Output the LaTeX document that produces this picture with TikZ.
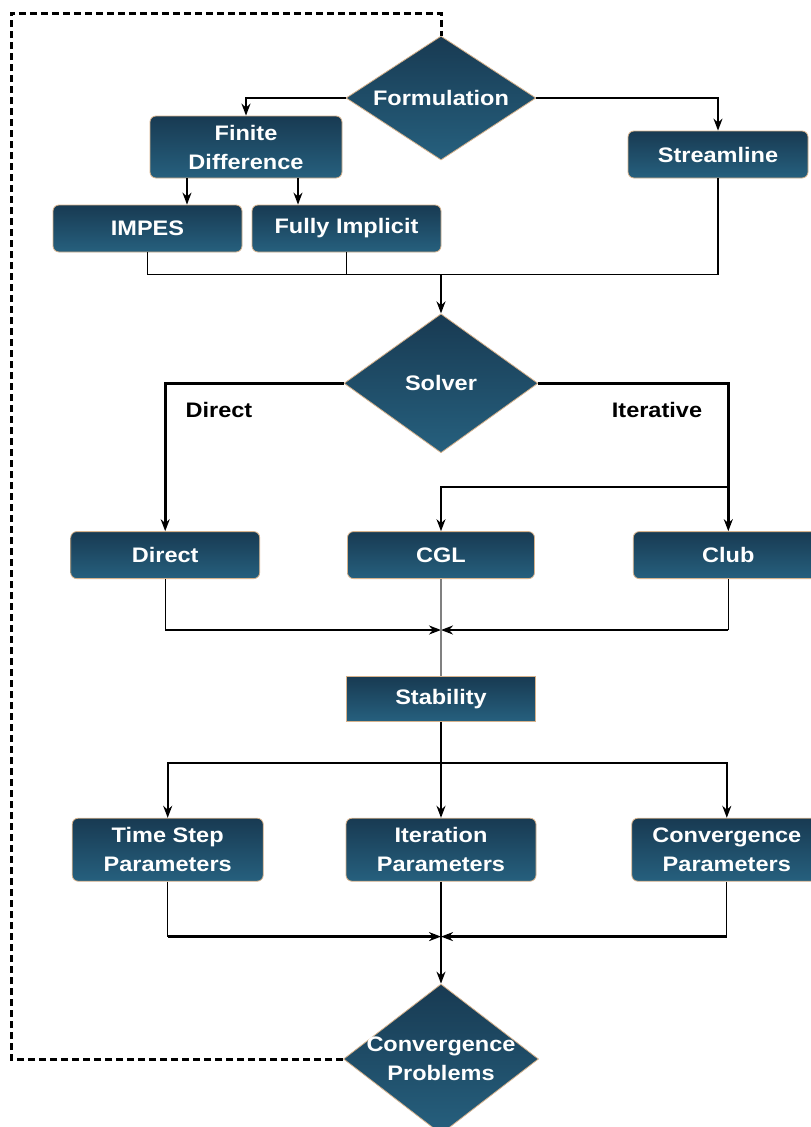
\documentclass[tikz,border=0pt]{standalone}
\usepackage{fontspec}
\setmainfont{Liberation Sans}[FakeStretch=1.12]
\usepackage{xcolor}
\usepackage{tikz}
\usetikzlibrary{shapes.geometric, arrows.meta, positioning, calc}

\definecolor{boxtop}{RGB}{24,58,82}
\definecolor{boxbot}{RGB}{38,96,126}
\definecolor{boxrim}{RGB}{214,178,140}

\begin{document}
\begin{tikzpicture}[
   x=1pt, y=1pt,
   font=\fontsize{21}{29}\selectfont\bfseries,
   boxbase/.style = {draw=boxrim, line width=0.8pt, top color=boxtop, bottom color=boxbot, text=white, align=center, inner sep=0pt},
   decision/.style = {boxbase, diamond, minimum width=194pt, minimum height=139pt, shape aspect=1.4},
   procbox/.style = {boxbase, rectangle, rounded corners=6pt, minimum width=189pt, minimum height=47pt},
   plainbox/.style = {boxbase, rectangle, minimum width=189pt, minimum height=45pt},
   branchtag/.style = {text=black},
   line/.style = {draw, -{Stealth[length=12pt, width=9pt]}, line width=1.8pt},
   heavyline/.style = {draw, -{Stealth[length=12pt, width=9pt]}, line width=2.8pt},
   joinline/.style = {draw, line width=1.3pt},
   feedback/.style = {draw, line width=3pt, dash pattern=on 7pt off 4pt}
   ]
  \useasboundingbox (0,0) rectangle (811,-1127);

  % Formulation and its branches
  \node[decision, minimum width=190pt, minimum height=124pt, shape aspect=1.53] (formulation) at (441,-98) {Formulation};
  \node[procbox, minimum width=192pt, minimum height=62pt] (findiff) at (246,-147) {Finite\\Difference};
  \node[procbox, minimum width=180pt] (streamline) at (718,-154.5) {Streamline};
  \node[procbox] (impes) at (147.5,-228.5) {IMPES};
  \node[procbox] (fullyimp) at (346.5,-228.5) {Fully Implicit};

  % Solver
  \node[decision, below=153pt of formulation] (solver) {Solver};
  \node[branchtag] (directtag) at (219,-410) {Direct};
  \node[branchtag] (itertag) at (657,-410) {Iterative};

  % Solver boxes
  \node[procbox, minimum width=187pt, below=78pt of solver] (cgl) {CGL};
  \node[procbox, left=87pt of cgl] (direct) {Direct};
  \node[procbox, minimum width=190pt, right=98pt of cgl] (club) {Club};

  % Stability
  \node[plainbox, below=97pt of cgl] (stability) {Stability};

  % Parameter boxes
  \node[procbox, minimum width=190pt, minimum height=63pt, below=96pt of stability] (iterparam) {Iteration\\Parameters};
  \node[procbox, minimum width=191pt, minimum height=63pt, left=82pt of iterparam] (timestep) {Time Step\\Parameters};
  \node[procbox, minimum width=190pt, minimum height=63pt, right=95pt of iterparam] (convparam) {Convergence\\Parameters};

  % Convergence problems
  \node[decision, minimum width=195pt, minimum height=150pt, shape aspect=1.3, inner sep=-6pt, below=102pt of iterparam] (convprob) {Convergence\\Problems};

  % Junctions
  \coordinate[above=39pt of solver.north] (join1);
  \coordinate[below=51pt of cgl.south] (join2);
  \coordinate[above=55pt of iterparam.north] (split3);
  \coordinate[below=55pt of iterparam.south] (join4);
  \coordinate (corner) at (11,-13);

  % Arrows
  \draw[line] (formulation.west) -| (findiff.north);
  \draw[line] (formulation.east) -| (streamline.north);
  \draw[line] ([xshift=-59pt]findiff.south) -- ([xshift=-59pt]findiff.south |- impes.north);
  \draw[line] ([xshift=52pt]findiff.south) -- ([xshift=52pt]findiff.south |- fullyimp.north);
  \draw[joinline] (impes.south) |- (streamline.south |- join1) -- (streamline.south);
  \draw[joinline] (fullyimp.south) -- (fullyimp.south |- join1);
  \draw[line] (join1) -- (solver.north);
  \draw[heavyline] (solver.west) -| (direct.north);
  \draw[heavyline] (solver.east) -| (club.north);
  \draw[line] ([yshift=-104pt]solver.east -| club.north) -| (cgl.north);
  \draw[joinline] (direct.south) -- (direct.south |- join2);
  \draw[joinline] (club.south) -- (club.south |- join2);
  \draw[heavyline] (direct.south |- join2) -- (join2);
  \draw[heavyline] (club.south |- join2) -- (join2);
  \draw[joinline, gray] (cgl.south) -- (stability.north);
  \draw[line] (stability.south) -- (iterparam.north);
  \draw[line] (split3) -| (timestep.north);
  \draw[line] (split3) -| (convparam.north);
  \draw[joinline] (timestep.south) -- (timestep.south |- join4);
  \draw[joinline] (convparam.south) -- (convparam.south |- join4);
  \draw[heavyline] (timestep.south |- join4) -- (join4);
  \draw[heavyline] (convparam.south |- join4) -- (join4);
  \draw[line] (iterparam.south) -- (convprob.north);
  \draw[feedback] (convprob.west) -| (corner) -| (formulation.north);
\end{tikzpicture}
\end{document}
